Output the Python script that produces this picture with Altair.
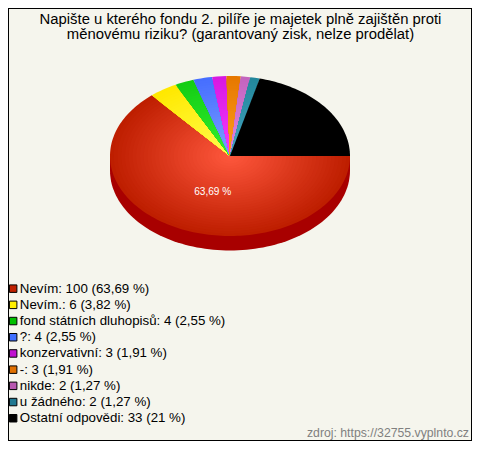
import altair as alt
import numpy as np
import pandas as pd

labels = ["Nevím", "Nevím.", "fond státních dluhopisů", "?", "konzervativní", "-", "nikde", "u žádného", "Ostatní odpovědi"]
counts = [100, 6, 4, 4, 3, 3, 2, 2, 33]
shares = ["63,69", "3,82", "2,55", "2,55", "1,91", "1,91", "1,27", "1,27", "21"]
legend_colors = ["#c02000", "#ffee00", "#00c000", "#4070ff", "#c010d0", "#e07000", "#b858b0", "#207890", "#000000"]
edge_colors = [(190, 30, 0), (255, 232, 0), (20, 205, 20), (70, 110, 255), (215, 25, 225), (230, 120, 0), (195, 100, 190), (35, 135, 155), (0, 0, 0)]
centre_colors = [(255, 88, 62), (255, 255, 80), (50, 240, 50), (125, 160, 255), (245, 60, 255), (255, 160, 30), (225, 135, 230), (70, 165, 195), (0, 0, 0)]
title_lines = ["Napište u kterého fondu 2. pilíře je majetek plně zajištěn proti", "měnovému riziku? (garantovaný zisk, nelze prodělat)"]
source_text = "zdroj: https://32755.vyplnto.cz"

CX, CY, RX, RY, DEPTH = 230, 156, 120, 80, 14.5
RINGS = 32

legend_labels = [f"{l}: {c} ({s} %)" for l, c, s in zip(labels, counts, shares)]
edges = np.cumsum([0] + counts) / sum(counts) * 2 * np.pi

rows = []
def add_shape(key, pts, colour):
    for i, (x, y) in enumerate(pts):
        rows.append({"shape": key, "i": i, "x": x, "y": y, "fill": colour})

t = np.radians(np.arange(0, 180.5, 2))
side = [(CX + RX * np.cos(a), CY + DEPTH + RY * np.sin(a)) for a in t] + [(CX - RX, CY), (CX + RX, CY)]
add_shape("a000", side, "#a80000")

for s in range(len(counts)):
    a0, a1 = edges[s], edges[s + 1]
    n = max(3, int((a1 - a0) / np.radians(1.5)))
    ang = np.linspace(a0, a1, n)
    for r in range(RINGS):
        k = 1 - r / RINGS
        mix = 1 - k
        col = [round(e + (c - e) * mix) for e, c in zip(edge_colors[s], centre_colors[s])]
        pts = [(CX, CY)] + [(CX + k * RX * np.cos(a), CY + k * RY * np.sin(a)) for a in ang]
        add_shape(f"b{s}{r:03d}", pts, "#%02x%02x%02x" % tuple(col))
        if edge_colors[s] == (0, 0, 0):
            break

df = pd.DataFrame(rows)
xs = alt.Scale(domain=[8, 472], range=[0, 464], nice=False, zero=False)
ys = alt.Scale(domain=[8, 441], range=[0, 433], nice=False, zero=False)
X = alt.X("x:Q", scale=xs, axis=None)
Y = alt.Y("y:Q", scale=ys, axis=None)

pie = alt.Chart(df).mark_line(strokeWidth=0, interpolate="linear").encode(
    x=X, y=Y,
    detail="shape:N",
    order="i:Q",
    fill=alt.Fill("fill:N", scale=None),
)

pct = alt.Chart(pd.DataFrame({"x": [212.7], "y": [192], "t": [shares[0] + " %"]})).mark_text(
    color="white", fontSize=10.1, font="Liberation Sans", align="center", baseline="middle"
).encode(x=X, y=Y, text="t:N")

src = alt.Chart(pd.DataFrame({"x": [469], "y": [432.5], "t": [source_text]})).mark_text(
    color="#808080", fontSize=12.25, font="Liberation Sans", align="right", baseline="middle"
).encode(x=X, y=Y, text="t:N")

ttl = alt.Chart(pd.DataFrame({"x": [240.5, 240.5], "y": [20, 35], "t": title_lines})).mark_text(
    color="#000000", fontSize=14.85, font="Liberation Sans", align="center", baseline="middle"
).encode(x=X, y=Y, text="t:N")

leg_df = pd.DataFrame({"label": legend_labels, "x": [100.0] * len(labels), "y": [100.0] * len(labels)})
leg = alt.Chart(leg_df).mark_point(opacity=0, filled=True).encode(
    x=X, y=Y,
    color=alt.Color("label:N", sort=legend_labels, scale=alt.Scale(domain=legend_labels, range=legend_colors),
        legend=alt.Legend(title=None, orient="none", legendX=-1.5, legendY=274, symbolType="square", symbolSize=56,
            symbolOpacity=1, symbolStrokeColor="#000000", symbolStrokeWidth=1, labelFont="Liberation Sans",
            labelFontSize=13.3, labelColor="#000000", labelLimit=400, rowPadding=2.2, padding=0, labelOffset=0,
            values=legend_labels)),
)

chart = alt.layer(pie, pct, ttl, src, leg).resolve_scale(fill="independent", color="independent").properties(
    width=464, height=433, background="#f5f5ed", padding=0,
    autosize=alt.AutoSizeParams(type="none"),
).configure_view(stroke="#000000", strokeWidth=2)

chart.save("out.html", embed_options={"renderer": "svg", "actions": False})
